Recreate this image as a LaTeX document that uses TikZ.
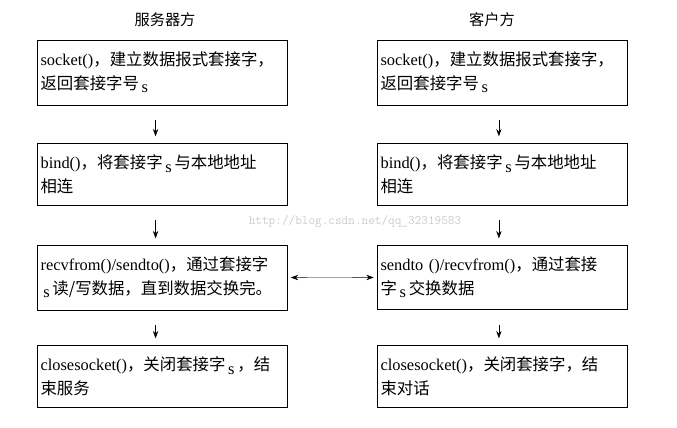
\documentclass[tikz,border=0pt]{standalone}
\usepackage{fontspec}
\usetikzlibrary{arrows.meta}
\setmainfont{Liberation Serif}
\newfontfamily\cjk{Noto Sans CJK SC}
\newcommand{\zh}[1]{{\cjk #1}}
\newcommand{\subs}{\,\raisebox{-0.5ex}{s}\,}
\begin{document}
\begin{tikzpicture}
[x=0.03cm, y=-0.03cm, >={Stealth[length=2.2mm,width=1.6mm]},
 stepbox/.style={draw, anchor=north west, text width=7.3cm, minimum height=1.8cm,
   inner xsep=0.1cm, inner ysep=0.35cm, align=left, font=\fontsize{14}{20}\selectfont},
 link/.style={->, shorten <=0.45cm, shorten >=0.2cm},
 title/.style={font=\cjk\fontsize{13}{15}\selectfont}]

\useasboundingbox (0,0) rectangle (677,428);
%________________________________________________%
\node[title] (srv) at (165,20) {服务器方};
\node[title] (cli) at (492,20) {客户方};
%________________________________________________%
\node[stepbox] (s1) at (37,40)  {socket()\zh{，建立数据报式套接字，}\\\zh{返回套接字号}\subs};
\node[stepbox] (s2) at (37,143) {bind()\zh{，将套接字}\subs\zh{与本地地址}\\\zh{相连}};
\node[stepbox] (s3) at (37,245) {recvfrom()/sendto()\zh{，通过套接字}\\\subs\zh{读/写数据，直到数据交换完。}};
\node[stepbox] (s4) at (37,345) {closesocket()\zh{，关闭套接字}\subs\zh{，结}\\\zh{束服务}};
%________________________________________________%
\node[stepbox] (c1) at (377,40)  {socket()\zh{，建立数据报式套接字，}\\\zh{返回套接字号}\subs};
\node[stepbox] (c2) at (377,143) {bind()\zh{，将套接字}\subs\zh{与本地地址}\\\zh{相连}};
\node[stepbox] (c3) at (377,245) {sendto ()/recvfrom()\zh{，通过套接}\\\zh{字}\subs\zh{交换数据}};
\node[stepbox] (c4) at (377,345) {closesocket()\zh{，关闭套接字，结}\\\zh{束对话}};
%________________________________________________%
\foreach \a/\b in {s1/s2,s2/s3,s3/s4}
  \draw[link] ([xshift=-0.2cm]\a.south) -- ([xshift=-0.2cm]\b.north);
\foreach \a/\b in {c1/c2,c2/c3,c3/c4}
  \draw[link] ([xshift=-0.1cm]\a.south) -- ([xshift=-0.1cm]\b.north);
\draw[<->] ([xshift=0.1cm]s3.east) -- ([xshift=-0.1cm]c3.west);
%________________________________________________%
\node[text=gray!40, font=\ttfamily\fontsize{11}{13}\selectfont] (mark) at (355,222) {http://blog.csdn.net/qq\_32319583};
\end{tikzpicture}
\end{document}
